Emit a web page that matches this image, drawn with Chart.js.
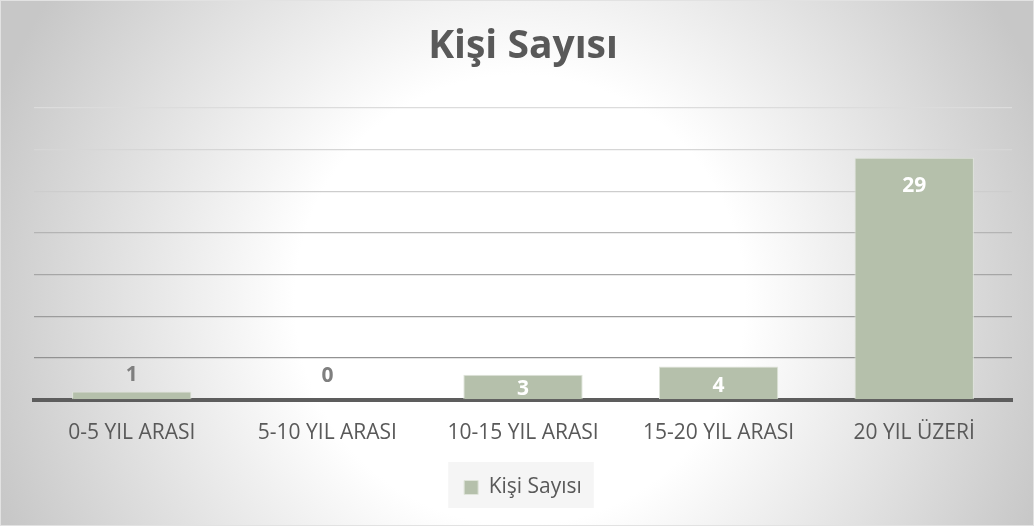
<!DOCTYPE html>
<html>
<head>
<meta charset="utf-8">
<script src="https://cdn.jsdelivr.net/npm/chart.js@4/dist/chart.umd.min.js"></script>
<style>
  body { margin: 0; }
  #wrap {
    position: relative;
    width: 1034px;
    height: 526px;
    background: radial-gradient(circle at 520px 300px, #ffffff 0px, #ffffff 225px, #c7c7c7 560px);
    box-shadow: inset 0 0 0 1px #e2e2e2;
  }
</style>
</head>
<body>
<div id="wrap"><canvas id="myChart"></canvas></div>
<script>
// chart data
const categories = ['0-5 YIL ARASI', '5-10 YIL ARASI', '10-15 YIL ARASI', '15-20 YIL ARASI', '20 YIL ÜZERİ'];
const seriesName = 'Kişi Sayısı';
const values = [1, 0, 3, 4, 29];
const yMax = 35;
const yStep = 5;

const textGray = '#595959';
const barColor = '#b5c0ab';

// gridlines get lighter towards the top
function gridColor(ctx) {
  const v = ctx.tick.value;
  if (v === 0) return 'rgba(0,0,0,0)';
  const shades = { 5: '#929292', 10: '#9c9c9c', 15: '#a6a6a6', 20: '#b4b4b4', 25: '#cdcdcd', 30: '#d6d6d6', 35: '#dcdcdc' };
  return shades[v] || '#bfbfbf';
}

// light box behind the legend
const legendBox = {
  id: 'legendBox',
  beforeDraw(chart) {
    const lg = chart.legend;
    if (!lg || !lg.legendHitBoxes.length) return;
    const hb = lg.legendHitBoxes[0];
    const ctx = chart.ctx;
    ctx.save();
    ctx.fillStyle = 'rgba(238,238,238,0.6)';
    ctx.fillRect(hb.left - 16, hb.top - 15, hb.width + 28, hb.height + 25);
    ctx.restore();
  }
};

// value labels, inside the bar when it is tall enough
const valueLabels = {
  id: 'valueLabels',
  afterDatasetsDraw(chart) {
    const ctx = chart.ctx;
    const meta = chart.getDatasetMeta(0);
    ctx.save();
    ctx.font = 'bold 21px "Open Sans"';
    ctx.textAlign = 'center';
    ctx.textBaseline = 'middle';
    meta.data.forEach((bar, i) => {
      const h = bar.base - bar.y;
      let y;
      if (h >= 20) {
        ctx.fillStyle = '#ffffff';
        y = bar.y + Math.min(28, h * 0.6);
      } else {
        ctx.fillStyle = '#7f7f7f';
        y = bar.base - 24;
      }
      ctx.fillText(String(values[i]), bar.x, y);
    });
    ctx.restore();
  }
};

const ctx = document.getElementById('myChart').getContext('2d');
const myChart = new Chart(ctx, {
  type: 'bar',
  data: {
    labels: categories,
    datasets: [{
      label: seriesName,
      data: values,
      backgroundColor: barColor,
      borderColor: '#dfe4da',
      borderWidth: 1,
      barPercentage: 0.61,
      categoryPercentage: 1,
    }],
  },
  options: {
    responsive: true,
    maintainAspectRatio: false,
    animation: false,
    layout: {
      padding: { left: 34, right: 22, top: 0, bottom: 18 },
    },
    plugins: {
      title: {
        display: true,
        text: seriesName,
        color: textGray,
        font: { family: 'Open Sans', size: 39, weight: 'bold' },
        padding: { top: 23, bottom: 38 },
      },
      legend: {
        position: 'bottom',
        labels: {
          color: textGray,
          font: { family: 'Open Sans', size: 21 },
          boxWidth: 14,
          boxHeight: 14,
          padding: 10,
        },
      },
      tooltip: { enabled: false },
    },
    scales: {
      x: {
        grid: { display: false, drawTicks: false },
        border: { display: true, color: '#5d5d5d', width: 4 },
        ticks: {
          color: textGray,
          font: { family: 'Open Sans', size: 21 },
          padding: 21,
          maxRotation: 0,
        },
      },
      y: {
        min: 0,
        max: yMax,
        ticks: { display: false, stepSize: yStep },
        grid: { color: gridColor, lineWidth: 1.3, drawTicks: false },
        border: { display: false },
      },
    },
  },
  plugins: [legendBox, valueLabels],
});
</script>
</body>
</html>
